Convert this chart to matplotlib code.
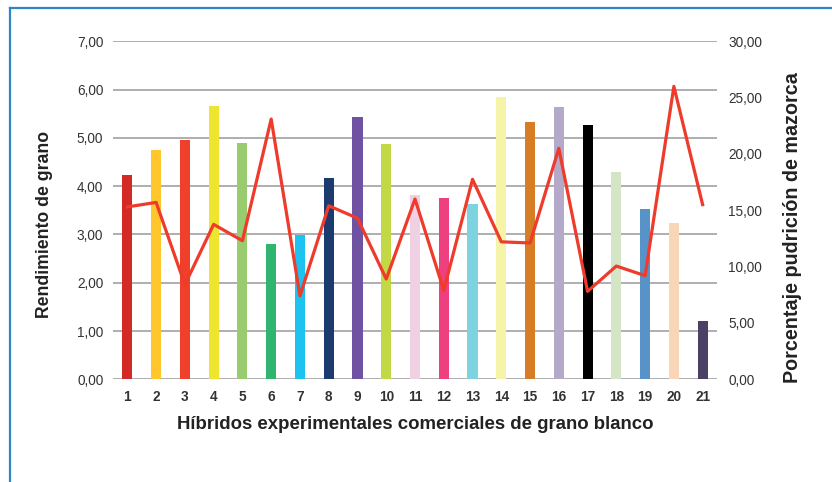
import matplotlib
matplotlib.use("Agg")
import matplotlib.pyplot as plt
from matplotlib.lines import Line2D
from matplotlib.ticker import FuncFormatter

plt.rcParams['font.family'] = ['Liberation Sans', 'DejaVu Sans']

# datos
hibridos = list(range(1, 22))
rendimiento = [4.23, 4.75, 4.95, 5.66, 4.89, 2.80, 2.99, 4.17, 5.43, 4.87, 3.82,
               3.75, 3.63, 5.84, 5.33, 5.64, 5.27, 4.29, 3.53, 3.24, 1.21]
pudricion = [15.3, 15.7, 8.4, 13.75, 12.3, 23.1, 7.4, 15.4, 14.3, 8.9, 16.0,
             7.9, 17.75, 12.2, 12.1, 20.5, 7.8, 10.05, 9.2, 26.0, 15.5]
colores = ['#D42A27', '#FFC72C', '#F0402B', '#EEE52F', '#98CC6E', '#2FB56F', '#1CC2F0',
           '#1B3A6E', '#6F52A1', '#C3D845', '#F0D0E3', '#EE3F7E', '#7DD3DF', '#F6F4A8',
           '#D67D26', '#B4A9C9', '#000000', '#D4E5C5', '#5792C8', '#FAD6B8', '#4A4165']

fig = plt.figure(figsize=(8.32, 4.82), dpi=100)
ax = fig.add_axes([0.1358, 0.2131, 0.726, 0.7012])

coma = FuncFormatter(lambda v, p: f"{v:.2f}".replace('.', ','))

ax.bar(hibridos, rendimiento, width=0.35, color=colores, zorder=2)
ax.set_xlim(0.5, 21.5)
ax.set_ylim(0, 7)
ax.set_yticks(range(0, 8))
ax.yaxis.set_major_formatter(coma)
ax.set_xticks(hibridos)
ax.grid(axis='y', color='#A8A8A8', linewidth=1.3, zorder=0)
ax.set_axisbelow(True)
for s in ax.spines.values():
    s.set_visible(False)
ax.tick_params(length=0, labelsize=9.8, labelcolor='#333333')
ax.tick_params(axis='y', pad=7)
ax.tick_params(axis='x', pad=8)
for lbl in ax.get_xticklabels():
    lbl.set_fontweight('bold')
ax.set_ylabel('Rendimiento de grano', fontsize=12.7, fontweight='bold', color='#222222', labelpad=17)
ax.yaxis.label.set_y(0.459)
ax.set_xlabel('Híbridos experimentales comerciales de grano blanco', fontsize=13.4,
              fontweight='bold', color='#222222', labelpad=8)

ax2 = ax.twinx()
ax2.plot(hibridos, pudricion, color='#EE3B2B', linewidth=2.3, zorder=3)
ax2.set_ylim(0, 30)
ax2.set_yticks(range(0, 31, 5))
ax2.yaxis.set_major_formatter(coma)
for s in ax2.spines.values():
    s.set_visible(False)
ax2.tick_params(length=0, labelsize=9.8, labelcolor='#333333', pad=8)
ax2.set_ylabel('Porcentaje pudrición de mazorca', fontsize=14.2, fontweight='bold',
               color='#222222', labelpad=15)
ax2.yaxis.label.set_y(0.45)

# marco azul
fig.add_artist(Line2D([10 / 832, 10 / 832], [0, 1 - 8 / 482], color='#2E86C8', linewidth=1.6))
fig.add_artist(Line2D([10 / 832, 1], [1 - 8 / 482, 1 - 8 / 482], color='#2E86C8', linewidth=1.6))

fig.savefig('out.png', dpi=100)
